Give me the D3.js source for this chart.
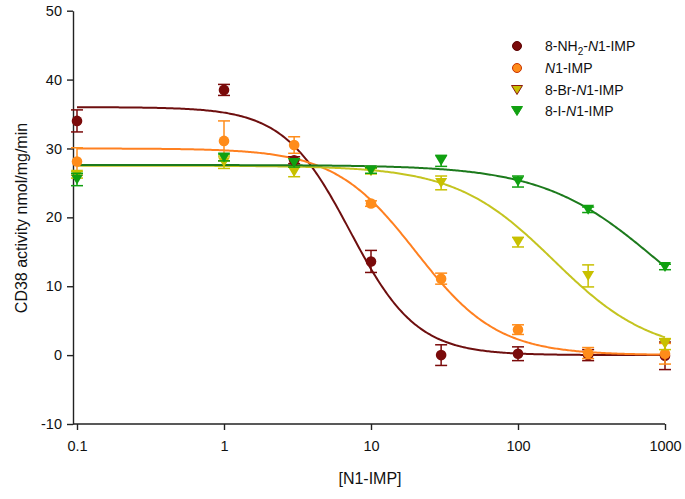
<!DOCTYPE html>
<html>
<head>
<meta charset="utf-8">
<script src="https://cdn.jsdelivr.net/npm/d3@7"></script>
<style>
  html, body { margin: 0; padding: 0; background: #fff; }
  svg { display: block; font-family: "Liberation Sans", Arial, sans-serif; }
</style>
</head>
<body>
<svg id="chart" width="685" height="499"></svg>
<script>
// ---- data ----
const concentrations = [0.1, 1, 3, 10, 30, 100, 300, 1000];
const seriesNames = ["8-NH2-N1-IMP", "N1-IMP", "8-Br-N1-IMP", "8-I-N1-IMP"];
const nh2Values = [34.0, 38.5, 28.3, 13.6, 0.0, 0.2, 0.0, -0.1];
const nh2Errors = [1.6, 0.8, 0.5, 1.6, 1.5, 1.0, 0.8, 2.0];
const n1Values  = [28.1, 31.1, 30.5, 22.0, 11.1, 3.7, 0.3, 0.2];
const n1Errors  = [2.0, 2.9, 1.2, 0.4, 0.8, 0.7, 0.8, 1.5];
const brValues  = [26.2, 28.0, 26.6, 26.7, 25.0, 16.4, 11.5, 1.6];
const brErrors  = [0.5, 0.9, 0.7, 0.4, 1.0, 0.7, 1.6, 0.8];
const iValues   = [25.5, 28.7, 27.9, 26.8, 28.2, 25.2, 21.1, 12.8];
const iErrors   = [0.9, 0.5, 0.6, 0.4, 0.8, 0.8, 0.4, 0.4];
// fitted dose-response curve parameters (top, bottom, IC50, Hill slope)
const fitTop    = [36.0, 30.0, 27.5, 27.6];
const fitBottom = [0.0, 0.0, 0.0, 0.0];
const fitIC50   = [7.2, 20.2, 175, 883];
const fitHill   = [1.92, 1.56, 1.3, 1.12];
const xTicks = [0.1, 1, 10, 100, 1000];
const yTicks = [-10, 0, 10, 20, 30, 40, 50];

// ---- styles ----
const markerFill   = ["#7a0a0a", "#ff8c1a", "#c8c000", "#10a010"];
const markerStroke = ["#7a0a0a", "#ff8c1a", "#c8c000", "#10a010"];
const legendStroke = ["#5a0000", "#c83200", "#8b1a10", "#10a010"];
const lineColor    = ["#6e0f0f", "#ff8020", "#c4c420", "#1c7a1c"];
const shapes       = ["circle", "circle", "tri", "tri"];

const svg = d3.select("#chart");
const x = d3.scaleLog().domain([0.1, 1000]).range([77, 665]);
const y = d3.scaleLinear().domain([-10, 50]).range([424, 10.7]);
const axisColor = "#222";

// axes
const gx = svg.append("g").attr("transform", "translate(0,424)")
  .call(d3.axisBottom(x).tickValues(xTicks).tickFormat(d => String(d)).tickSize(6).tickSizeOuter(0).tickPadding(11));
gx.select(".domain").attr("d", "M73,0H665");
const gy = svg.append("g").attr("transform", "translate(73,0)")
  .call(d3.axisLeft(y).tickValues(yTicks).tickFormat(d => String(d)).tickSize(6).tickSizeOuter(0).tickPadding(5));
[gx, gy].forEach(g => {
  g.selectAll("path,line").attr("stroke", axisColor).attr("stroke-width", 1.4);
  g.selectAll("text").attr("fill", "#111").style("font-size", "14.5px")
    .style("font-family", "'Liberation Sans', Arial, sans-serif");
});

svg.append("text").attr("x", 370).attr("y", 484).attr("text-anchor", "middle")
  .style("font-size", "16px").attr("fill", "#111").text("[N1-IMP]");
svg.append("text").attr("transform", "translate(27,218) rotate(-90)").attr("text-anchor", "middle")
  .style("font-size", "16px").attr("fill", "#111").text("CD38 activity nmol/mg/min");

const values = [nh2Values, n1Values, brValues, iValues];
const errors = [nh2Errors, n1Errors, brErrors, iErrors];

// fitted curves
const curveX = d3.range(0, 401).map(i => Math.pow(10, -1 + 4 * i / 400));
const line = d3.line().x(d => x(d[0])).y(d => y(d[1])).curve(d3.curveLinear);
const curveG = svg.append("g");
fitTop.forEach((top, s) => {
  const pts = curveX.map(c => [c, fitBottom[s] + (top - fitBottom[s]) / (1 + Math.pow(c / fitIC50[s], fitHill[s]))]);
  curveG.append("path").attr("d", line(pts)).attr("fill", "none")
    .attr("stroke", lineColor[s]).attr("stroke-width", 2);
});

function tri(cx, cy, w, h) {
  return `M${cx - w / 2},${cy - h / 2}L${cx + w / 2},${cy - h / 2}L${cx},${cy + h / 2}Z`;
}

// points with error bars
values.forEach((vals, s) => {
  const g = svg.append("g");
  vals.forEach((v, i) => {
    const cx = x(concentrations[i]);
    const e = errors[s][i];
    const y1 = y(v + e), y2 = y(v - e);
    g.append("line").attr("x1", cx).attr("x2", cx).attr("y1", y1).attr("y2", y2)
      .attr("stroke", markerStroke[s]).attr("stroke-width", 1.5);
    [y1, y2].forEach(yy => g.append("line").attr("x1", cx - 6).attr("x2", cx + 6)
      .attr("y1", yy).attr("y2", yy).attr("stroke", markerStroke[s]).attr("stroke-width", 1.5));
    if (shapes[s] === "circle") {
      g.append("circle").attr("cx", cx).attr("cy", y(v)).attr("r", 5.3).attr("fill", markerFill[s]);
    } else {
      g.append("path").attr("d", tri(cx, y(v), 12, 10)).attr("fill", markerFill[s]);
    }
  });
});

// legend
const legendY = [46, 68, 90, 111];
const lg = svg.append("g");
seriesNames.forEach((name, s) => {
  const cy = legendY[s];
  if (shapes[s] === "circle") {
    lg.append("circle").attr("cx", 517).attr("cy", cy).attr("r", 4.5)
      .attr("fill", markerFill[s]).attr("stroke", legendStroke[s]).attr("stroke-width", 1);
  } else {
    lg.append("path").attr("d", tri(517, cy, 11, 9))
      .attr("fill", markerFill[s]).attr("stroke", legendStroke[s]).attr("stroke-width", 1);
  }
  const t = lg.append("text").attr("x", 545).attr("y", cy + 5).style("font-size", "14px").attr("fill", "#111");
  if (s === 0) {
    t.append("tspan").text("8-NH");
    t.append("tspan").attr("dy", 4).style("font-size", "10px").text("2");
    t.append("tspan").attr("dy", -4).text("-");
    t.append("tspan").style("font-style", "italic").text("N");
    t.append("tspan").text("1-IMP");
  } else {
    const prefix = name.slice(0, name.indexOf("N1-IMP"));
    if (prefix) t.append("tspan").text(prefix);
    t.append("tspan").style("font-style", "italic").text("N");
    t.append("tspan").text("1-IMP");
  }
});
</script>
</body>
</html>
